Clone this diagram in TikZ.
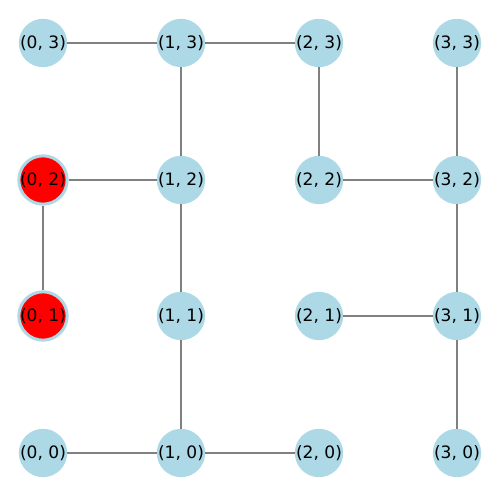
\documentclass[tikz,border=0pt]{standalone}
\usepackage{fontspec}
\setmainfont{DejaVu Sans}
\definecolor{nodeblue}{HTML}{ADD8E6}
\definecolor{edgegray}{HTML}{808080}
\begin{document}
\begin{tikzpicture}[x=0.75pt,y=0.75pt,
  cell/.style={circle,fill=nodeblue,minimum size=33.75pt,inner sep=0pt,font=\fontsize{12.8}{12.8}\selectfont},
  marked/.style={cell,fill=red,draw=nodeblue,line width=2.25pt,minimum size=31.5pt},
  link/.style={draw=edgegray,line width=0.8pt}]
\useasboundingbox (0,0) rectangle (500,495);
% grid nodes
\node[cell] (n03) at (43,452) {(0, 3)};
\node[cell] (n13) at (181,452) {(1, 3)};
\node[cell] (n23) at (319,452) {(2, 3)};
\node[cell] (n33) at (457,452) {(3, 3)};
\node[marked] (n02) at (43,315) {(0, 2)};
\node[cell] (n12) at (181,315) {(1, 2)};
\node[cell] (n22) at (319,315) {(2, 2)};
\node[cell] (n32) at (457,315) {(3, 2)};
\node[marked] (n01) at (43,179) {(0, 1)};
\node[cell] (n11) at (181,179) {(1, 1)};
\node[cell] (n21) at (319,179) {(2, 1)};
\node[cell] (n31) at (457,179) {(3, 1)};
\node[cell] (n00) at (43,42) {(0, 0)};
\node[cell] (n10) at (181,42) {(1, 0)};
\node[cell] (n20) at (319,42) {(2, 0)};
\node[cell] (n30) at (457,42) {(3, 0)};
% edges
\draw[link] (n03) -- (n13);
\draw[link] (n13) -- (n23);
\draw[link] (n13) -- (n12);
\draw[link] (n23) -- (n22);
\draw[link] (n33) -- (n32);
\draw[link] (n02) -- (n12);
\draw[link] (n02) -- (n01);
\draw[link] (n12) -- (n11);
\draw[link] (n22) -- (n32);
\draw[link] (n32) -- (n31);
\draw[link] (n21) -- (n31);
\draw[link] (n31) -- (n30);
\draw[link] (n11) -- (n10);
\draw[link] (n00) -- (n10);
\draw[link] (n10) -- (n20);
\end{tikzpicture}
\end{document}
